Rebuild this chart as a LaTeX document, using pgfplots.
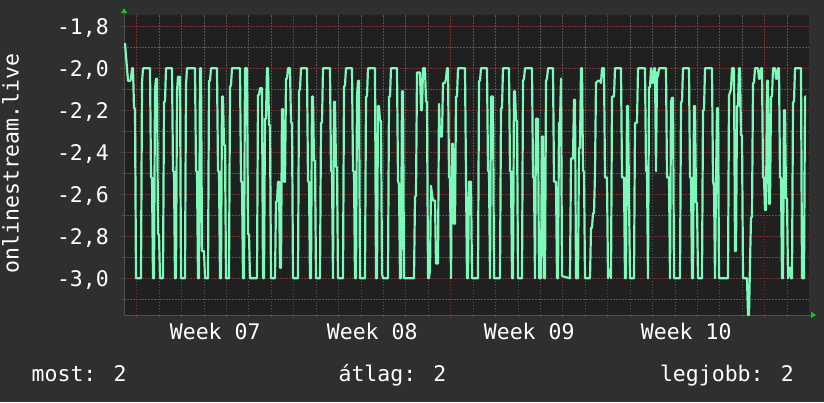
\documentclass[border=0pt]{standalone}
\usepackage{fontspec}
\setmainfont{DejaVu Sans Mono}
\usepackage{pgfplots}
\pgfplotsset{compat=1.18}
\usetikzlibrary{arrows.meta}
\definecolor{backc}{RGB}{47,47,47}
\definecolor{canvasc}{RGB}{32,32,32}
\definecolor{gridminor}{RGB}{85,85,85}
\definecolor{gridmajor}{RGB}{125,45,45}
\definecolor{axisc}{RGB}{80,80,80}
\definecolor{linec}{RGB}{125,250,185}
\definecolor{arrowc}{RGB}{20,200,20}
\newcommand{\fs}{\fontsize{21.5}{25}\selectfont}
\begin{document}
\fs
\begin{tikzpicture}[x=1pt,y=1pt]
\fill[backc] (0,0) rectangle (824,402);
\useasboundingbox (0,0) rectangle (824,402);
\begin{axis}[
  at={(124pt,87pt)}, anchor=south west,
  scale only axis, width=685pt, height=300.3pt,
  xmin=0, xmax=685, ymin=-3.175, ymax=-1.745,
  axis background/.style={fill=canvasc},
  axis x line*=bottom, axis y line*=left,
  axis line style={axisc, line width=1pt},
  x axis line style={shorten >=-7pt, -{Triangle[length=5pt,width=6pt,color=arrowc]}},
  y axis line style={shorten >=-6.5pt, -{Triangle[length=5pt,width=6pt,color=arrowc]}},
  grid=both,
  minor grid style={gridminor, dash pattern=on 1.5pt off 1.5pt, line width=0.8pt},
  major grid style={gridmajor, dash pattern=on 1.5pt off 1.5pt, line width=0.8pt},
  tick align=outside,
  major tick length=3pt, minor tick length=2pt,
  major tick style={gridmajor, line width=0.8pt},
  minor tick style={gridminor, line width=0.8pt},
  xtick={12.7,169.7,326.7,483.7,640.7},
  xticklabels={,,,,},
  minor xtick={12.7,35.1286,...,685},
  extra x ticks={91.2,248.2,405.2,562.2},
  extra x tick labels={Week 07,Week 08,Week 09,Week 10},
  extra x tick style={grid=none, major tick length=0pt},
  ytick={-3,-2.8,-2.6,-2.4,-2.2,-2,-1.8},
  yticklabels={{-3,0},{-2,8},{-2,6},{-2,4},{-2,2},{-2,0},{-1,8}},
  minor ytick={-3.1,-2.9,-2.7,-2.5,-2.3,-2.1,-1.9},
  every tick label/.append style={font=\fs, text=white},
  xticklabel style={anchor=base, inner sep=0pt, yshift=-24pt},
  yticklabel style={anchor=east, inner sep=0pt, text height=15.7pt, text depth=0pt, xshift=-12pt},
]
\addplot[linec, line width=2.2pt, line join=round] coordinates {
(1,-1.88) (4,-2.06) (6,-2.06) (7,-2.05) (8,-2.0) (9,-2.0) (10,-2.19) (11,-2.19)
(12,-3.0) (17,-3.0) (18,-2.07) (19,-2.0) (26,-2.0) (27,-2.52) (28,-2.52) (29,-3.0)
(30,-3.0) (31,-2.1) (32,-2.05) (33,-2.05) (34,-2.79) (35,-2.79) (36,-3.0) (39,-3.0)
(40,-2.16) (41,-2.16) (42,-2.0) (48,-2.0) (49,-2.49) (50,-2.49) (51,-3.0) (52,-3.0)
(53,-2.11) (54,-2.04) (56,-2.04) (57,-3.0) (61,-3.0) (62,-2.08) (63,-2.0) (71,-2.0)
(72,-2.49) (73,-2.49) (74,-3.0) (75,-3.0) (76,-2.0) (77,-2.0) (78,-2.87) (80,-2.87)
(81,-3.0) (84,-3.0) (85,-2.06) (86,-2.06) (87,-2.0) (93,-2.0) (94,-2.49) (95,-2.49)
(96,-3.0) (97,-3.0) (98,-2.135) (99,-2.135) (100,-2.365) (101,-2.365) (102,-3.0) (105,-3.0)
(106,-2.09) (107,-2.08) (108,-2.0) (116,-2.0)
(117,-2.54) (118,-2.54) (119,-3.0) (120,-3.0) (121,-2.0) (123,-2.0) (124,-2.79) (125,-2.79)
(126,-3.0) (133,-3.0) (134,-2.127) (135,-2.127) (136,-2.095) (138,-2.095) (139,-3.0) (140,-3.0)
(141,-2.24) (142,-2.24) (143,-2.0) (144,-2.0) (145,-2.27) (146,-2.27) (147,-3.0) (151,-3.0)
(152,-2.635) (153,-2.635) (154,-2.54) (155,-2.54) (156,-2.95) (157,-2.95) (158,-2.195) (159,-2.195)
(160,-2.54) (161,-2.54) (162,-2.05) (163,-2.05) (164,-2.0) (166,-2.0) (167,-2.26) (168,-2.26)
(169,-3.0) (174,-3.0) (175,-2.11) (176,-2.1) (177,-2.0) (183,-2.0) (184,-2.54) (185,-2.54)
(186,-3.0) (187,-3.0) (188,-2.135) (189,-2.135) (190,-2.44) (191,-2.44) (192,-3.0) (196,-3.0)
(197,-2.26) (198,-2.26) (199,-2.0) (206,-2.0) (207,-2.49) (208,-2.49) (209,-3.0) (210,-2.16)
(211,-2.16) (212,-2.47) (213,-2.47) (214,-3.0) (219,-3.0) (220,-2.09) (221,-2.08) (222,-2.0)
(228,-2.0)
(229,-2.49) (230,-2.49) (231,-3.0) (232,-3.0) (233,-2.135) (234,-2.06) (235,-2.06) (236,-3.0)
(241,-3.0) (242,-2.135) (243,-2.135) (244,-2.0) (251,-2.0) (252,-3.0) (253,-3.0) (254,-2.18)
(255,-2.18) (256,-2.25) (257,-2.25) (258,-2.98) (259,-3.0) (264,-3.0) (265,-2.135) (266,-2.135)
(267,-2.0) (273,-2.0) (274,-2.54) (275,-2.55) (276,-3.0) (277,-3.0) (278,-2.11) (279,-2.11)
(280,-3.0) (290,-3.0) (291,-2.61) (292,-2.61) (293,-2.02) (296,-2.02) (297,-2.2) (298,-2.2)
(299,-2.0) (301,-2.0) (302,-2.16) (303,-2.16) (304,-3.0) (305,-3.0) (306,-2.96) (307,-2.56)
(308,-2.6) (309,-2.63) (311,-2.63) (312,-2.93) (314,-2.93) (315,-2.17) (316,-2.325) (318,-2.325)
(319,-2.07) (321,-2.07) (322,-2.05) (323,-2.0) (324,-2.0) (325,-2.52) (326,-2.52) (327,-3.0)
(328,-2.36) (329,-2.36) (330,-2.74) (331,-2.74) (332,-2.135) (333,-2.135) (334,-2.0) (341,-2.0)
(342,-2.52) (343,-3.0)
(344,-3.0) (345,-2.54) (347,-2.54) (348,-3.0) (354,-3.0) (355,-2.06) (356,-2.06) (357,-2.0)
(363,-2.0) (364,-2.49) (365,-2.49) (366,-3.0) (367,-2.135) (369,-2.135) (370,-3.0) (376,-3.0)
(377,-2.19) (378,-2.19) (379,-2.0) (385,-2.0) (386,-2.49) (387,-2.49) (388,-3.0) (389,-3.0)
(390,-2.11) (391,-2.11) (392,-2.25) (393,-2.25) (394,-3.0) (398,-3.0) (399,-2.06) (400,-2.05)
(401,-2.0) (408,-2.0) (409,-2.52) (410,-2.52) (411,-3.0) (412,-2.24) (414,-2.24) (415,-3.0)
(417,-3.0) (418,-2.325) (419,-2.325) (420,-3.0) (421,-3.0) (422,-2.06) (423,-2.05) (424,-2.0)
(429,-2.0) (430,-2.54) (432,-2.54) (433,-3.0) (434,-3.0) (435,-2.26) (436,-2.26) (437,-2.05)
(438,-2.99) (446,-3.0) (447,-2.43) (449,-2.43) (450,-2.15) (451,-2.15) (452,-3.0) (454,-3.0)
(455,-2.38) (456,-2.38) (457,-2.0) (458,-2.0)
(459,-2.49) (460,-2.49) (461,-3.0) (466,-3.0) (467,-2.76) (468,-2.76) (469,-2.69) (470,-2.69)
(471,-2.5) (472,-2.07) (474,-2.06) (476,-2.06) (477,-2.07) (478,-2.0) (480,-2.0) (481,-2.52)
(483,-2.52) (484,-3.0) (485,-2.96) (486,-2.96) (487,-3.0) (488,-2.135) (490,-2.135) (491,-2.0)
(497,-2.0) (498,-2.52) (500,-2.52) (501,-3.0) (502,-3.0) (503,-2.18) (504,-2.18) (505,-2.62)
(506,-3.0) (510,-3.0) (511,-2.26) (513,-2.26) (514,-2.0) (521,-2.0) (522,-2.49) (523,-2.49)
(524,-3.0) (525,-2.09) (526,-2.09) (527,-2.0) (528,-2.07) (529,-2.07) (530,-2.0) (531,-2.0)
(532,-2.49) (533,-2.02) (534,-2.04) (535,-2.0) (542,-2.0) (543,-2.52) (545,-2.52) (546,-3.0)
(547,-2.16) (548,-2.14) (549,-2.14) (550,-3.0) (556,-3.0) (557,-2.16) (558,-2.16) (559,-2.0)
(565,-2.0) (566,-2.52) (567,-2.52) (568,-3.0) (569,-3.0)
(570,-2.18) (571,-2.18) (572,-2.64) (573,-2.64) (574,-3.0) (578,-3.0) (579,-2.2) (580,-2.2)
(581,-2.0) (588,-2.0) (589,-2.54) (590,-2.56) (591,-3.0) (592,-2.55) (593,-2.19) (594,-2.19)
(595,-3.0) (604,-3.0) (605,-2.13) (607,-2.1) (608,-2.0) (610,-2.0) (611,-2.87) (612,-2.87)
(613,-2.18) (614,-2.18) (615,-2.0) (616,-2.0) (617,-2.32) (618,-2.32) (619,-3.0) (623,-3.0)
(624,-3.175) (625,-3.175) (626,-2.93) (627,-2.71) (628,-2.71) (629,-2.07) (630,-2.07) (631,-2.0)
(634,-2.0) (635,-2.05) (636,-2.05) (637,-2.0) (638,-2.0) (639,-2.52) (640,-2.52) (641,-2.675)
(642,-2.675) (643,-2.06) (644,-2.06) (645,-2.645) (646,-2.645) (647,-2.135) (648,-2.135) (649,-2.0)
(651,-2.0) (652,-2.05) (653,-2.05) (654,-2.0) (655,-2.0) (656,-2.52) (657,-2.52) (658,-3.0)
(659,-3.0) (660,-2.2) (661,-2.2) (662,-2.62) (663,-2.62) (664,-3.0) (665,-2.95) (666,-2.95)
(667,-3.0) (668,-3.0) (669,-2.16) (670,-2.16) (671,-2.0) (677,-2.0) (678,-3.0) (680,-3.0)
(681,-2.135) (682,-2.135)
};
\end{axis}
\node[rotate=90, anchor=base, text=white, inner sep=0pt, font=\fs] at (18.5,238.5) {onlinestream.live};
\node[anchor=base west, text=white, inner sep=0pt, font=\fs] at (31.5,21) {most: 2};
\node[anchor=base, text=white, inner sep=0pt, font=\fs] at (392.5,21) {átlag: 2};
\node[anchor=base east, text=white, inner sep=0pt, font=\fs] at (794,21) {legjobb: 2};
\end{tikzpicture}
\end{document}
